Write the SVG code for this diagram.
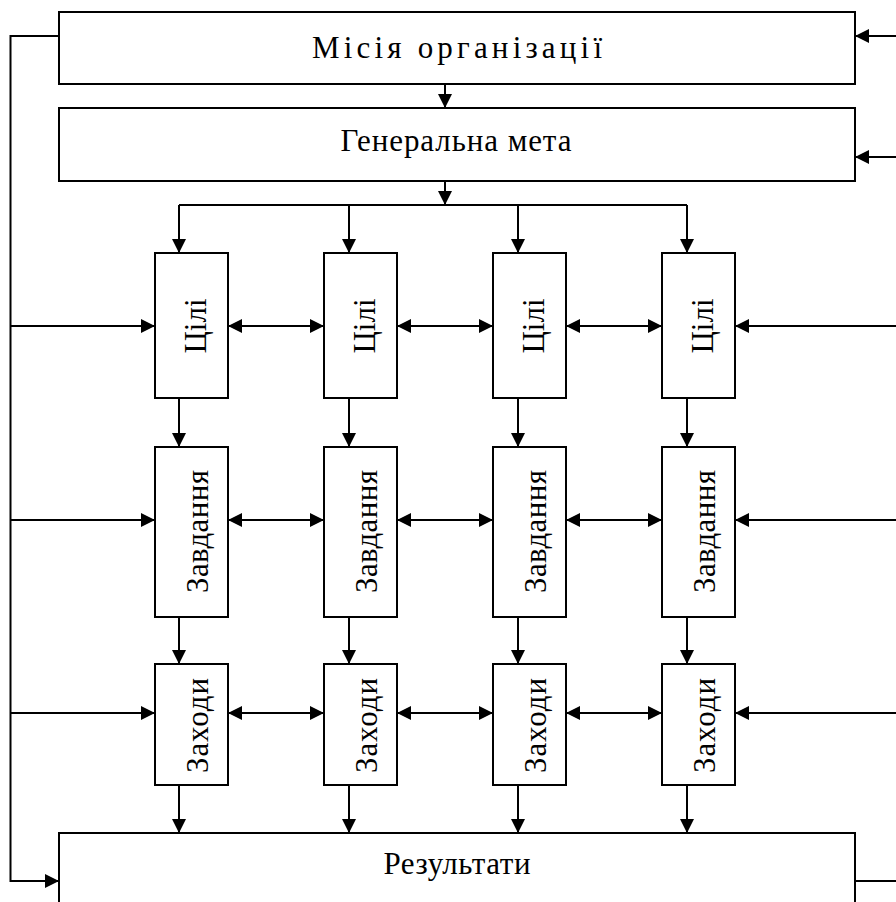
<svg xmlns="http://www.w3.org/2000/svg" width="896" height="902" viewBox="0 0 896 902">
<style>
.box{fill:#fff;stroke:#000;stroke-width:2}
.ln{fill:none;stroke:#000;stroke-width:2}
.ar{fill:none;stroke:#000;stroke-width:2;marker-end:url(#ah)}
.dar{fill:none;stroke:#000;stroke-width:2;marker-start:url(#ah);marker-end:url(#ah)}
text{font-family:"Liberation Serif","Times New Roman",serif;font-size:31px;fill:#000;text-anchor:middle}
</style>
<defs>
<marker id="ah" markerUnits="userSpaceOnUse" markerWidth="14" markerHeight="14" refX="14" refY="7" orient="auto-start-reverse">
<path d="M0,0 L14,7 L0,14 z" fill="#000"/>
</marker>
</defs>
<rect width="896" height="902" fill="#fff"/>
<g id="connectors">
<path class="ar" d="M59,36 H10.5 V881 H59"/>
<path class="ar" d="M896,36 H855"/>
<path class="ar" d="M896,157 H855"/>
<path class="ln" d="M855,881 H896"/>
<path class="ar" d="M445,84 V108"/>
<path class="ar" d="M445,181 V205"/>
<path class="ln" d="M179,205 H687"/>
<path class="ar" d="M179,205 V253"/>
<path class="ar" d="M349,205 V253"/>
<path class="ar" d="M518,205 V253"/>
<path class="ar" d="M687,205 V253"/>
<path class="ar" d="M179,398 V447"/>
<path class="ar" d="M349,398 V447"/>
<path class="ar" d="M518,398 V447"/>
<path class="ar" d="M687,398 V447"/>
<path class="ar" d="M179,617 V664"/>
<path class="ar" d="M349,617 V664"/>
<path class="ar" d="M518,617 V664"/>
<path class="ar" d="M687,617 V664"/>
<path class="ar" d="M179,785 V833"/>
<path class="ar" d="M349,785 V833"/>
<path class="ar" d="M518,785 V833"/>
<path class="ar" d="M687,785 V833"/>
<path class="ar" d="M10.5,326 H155"/>
<path class="ar" d="M10.5,520 H155"/>
<path class="ar" d="M10.5,713 H155"/>
<path class="ar" d="M896,326 H735"/>
<path class="ar" d="M896,520 H735"/>
<path class="ar" d="M896,713 H735"/>
<path class="dar" d="M228,326 H324"/>
<path class="dar" d="M397,326 H493"/>
<path class="dar" d="M566,326 H662"/>
<path class="dar" d="M228,520 H324"/>
<path class="dar" d="M397,520 H493"/>
<path class="dar" d="M566,520 H662"/>
<path class="dar" d="M228,713 H324"/>
<path class="dar" d="M397,713 H493"/>
<path class="dar" d="M566,713 H662"/>
</g>
<g id="mission"><rect class="box" x="59" y="12" width="796" height="72"/><text x="457" y="58" textLength="290" lengthAdjust="spacing">Місія організації</text></g>
<g id="goal"><rect class="box" x="59" y="108" width="796" height="73"/><text x="456" y="151" textLength="231" lengthAdjust="spacing">Генеральна мета</text></g>
<g id="results"><rect class="box" x="59" y="833" width="796" height="80"/><text x="457" y="874" textLength="147" lengthAdjust="spacing">Результати</text></g>
<g id="c1"><rect class="box" x="155" y="253" width="73" height="145"/><text transform="translate(206,326) rotate(-90)">Цілі</text></g>
<g id="c2"><rect class="box" x="324" y="253" width="73" height="145"/><text transform="translate(375,326) rotate(-90)">Цілі</text></g>
<g id="c3"><rect class="box" x="493" y="253" width="73" height="145"/><text transform="translate(544,326) rotate(-90)">Цілі</text></g>
<g id="c4"><rect class="box" x="662" y="253" width="73" height="145"/><text transform="translate(713,326) rotate(-90)">Цілі</text></g>
<g id="t1"><rect class="box" x="155" y="447" width="73" height="170"/><text transform="translate(208,531.5) rotate(-90)" textLength="123" lengthAdjust="spacing">Завдання</text></g>
<g id="t2"><rect class="box" x="324" y="447" width="73" height="170"/><text transform="translate(377,531.5) rotate(-90)" textLength="123" lengthAdjust="spacing">Завдання</text></g>
<g id="t3"><rect class="box" x="493" y="447" width="73" height="170"/><text transform="translate(546,531.5) rotate(-90)" textLength="123" lengthAdjust="spacing">Завдання</text></g>
<g id="t4"><rect class="box" x="662" y="447" width="73" height="170"/><text transform="translate(715,531.5) rotate(-90)" textLength="123" lengthAdjust="spacing">Завдання</text></g>
<g id="m1"><rect class="box" x="155" y="664" width="73" height="121"/><text transform="translate(208,725.5) rotate(-90)" textLength="95" lengthAdjust="spacing">Заходи</text></g>
<g id="m2"><rect class="box" x="324" y="664" width="73" height="121"/><text transform="translate(377,725.5) rotate(-90)" textLength="95" lengthAdjust="spacing">Заходи</text></g>
<g id="m3"><rect class="box" x="493" y="664" width="73" height="121"/><text transform="translate(546,725.5) rotate(-90)" textLength="95" lengthAdjust="spacing">Заходи</text></g>
<g id="m4"><rect class="box" x="662" y="664" width="73" height="121"/><text transform="translate(715,725.5) rotate(-90)" textLength="95" lengthAdjust="spacing">Заходи</text></g>
</svg>
